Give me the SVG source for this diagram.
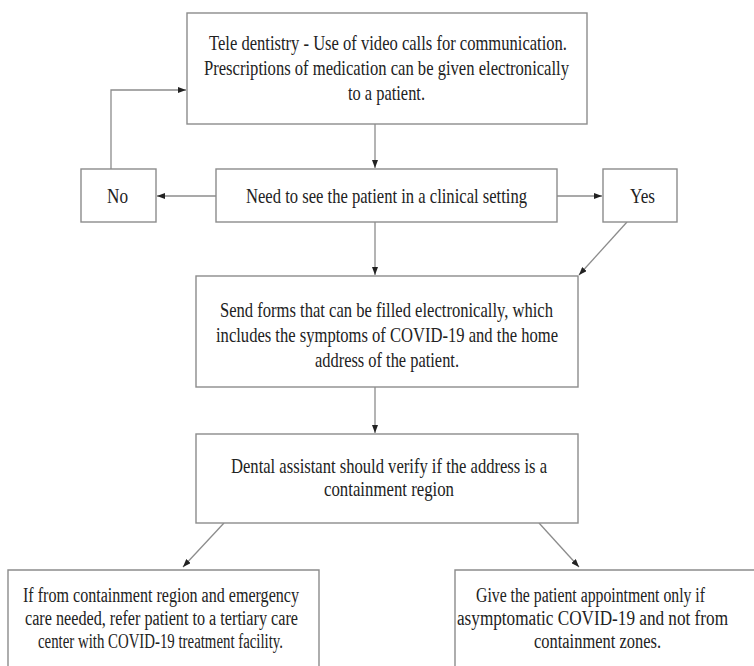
<svg xmlns="http://www.w3.org/2000/svg" width="754" height="666" viewBox="0 0 754 666">
<defs>
<style>
.box{fill:#fff;stroke:#8c8c8c;stroke-width:1.4}
.t{font-family:"Liberation Serif","Times New Roman",serif;font-size:21px;fill:#222}
.tb{font-family:"Liberation Serif","Times New Roman",serif;font-size:20px;fill:#222}
.m{text-anchor:middle}
.c{fill:none;stroke:#8c8c8c;stroke-width:1.3}
</style>
<marker id="ah" markerWidth="8" markerHeight="6" refX="8" refY="3" orient="auto" markerUnits="userSpaceOnUse">
<path d="M0,0 L8,3 L0,6 Z" fill="#222"/>
</marker>
</defs>
<rect width="754" height="666" fill="#fff"/>
<g id="connectors">
<path class="c" d="M375,124 V168" marker-end="url(#ah)"/>
<path class="c" d="M216,196 H157" marker-end="url(#ah)"/>
<path class="c" d="M557,196 H602" marker-end="url(#ah)"/>
<path class="c" d="M111,169 V90 H186" marker-end="url(#ah)"/>
<path class="c" d="M375,222 V275" marker-end="url(#ah)"/>
<path class="c" d="M627,222 L579,275" marker-end="url(#ah)"/>
<path class="c" d="M375,387 V433" marker-end="url(#ah)"/>
<path class="c" d="M224,523 L183,567" marker-end="url(#ah)"/>
<path class="c" d="M539,523 L579,567" marker-end="url(#ah)"/>
</g>
<g id="tele">
<rect class="box" x="187" y="13" width="400" height="111"/>
<text class="t" x="209" y="50" textLength="358" lengthAdjust="spacingAndGlyphs">Tele dentistry - Use of video calls for communication.</text>
<text class="t" x="204" y="75" textLength="365" lengthAdjust="spacingAndGlyphs">Prescriptions of medication can be given electronically</text>
<text class="t" x="348" y="100" textLength="77" lengthAdjust="spacingAndGlyphs">to a patient.</text>
</g>
<g id="no">
<rect class="box" x="81" y="169" width="75" height="53"/>
<text class="t" x="107" y="203" textLength="21" lengthAdjust="spacingAndGlyphs">No</text>
</g>
<g id="need">
<rect class="box" x="216" y="169" width="341" height="53"/>
<text class="t" x="246" y="203" textLength="281" lengthAdjust="spacingAndGlyphs">Need to see the patient in a clinical setting</text>
</g>
<g id="yes">
<rect class="box" x="603" y="169" width="74" height="53"/>
<text class="t" x="630" y="203" textLength="25" lengthAdjust="spacingAndGlyphs">Yes</text>
</g>
<g id="send">
<rect class="box" x="196" y="276" width="382" height="111"/>
<text class="t" x="220" y="317" textLength="333" lengthAdjust="spacingAndGlyphs">Send forms that can be filled electronically, which</text>
<text class="t" x="216" y="342" textLength="342" lengthAdjust="spacingAndGlyphs">includes the symptoms of COVID-19 and the home</text>
<text class="t" x="315" y="367" textLength="144" lengthAdjust="spacingAndGlyphs">address of the patient.</text>
</g>
<g id="dental">
<rect class="box" x="196" y="434" width="382" height="89"/>
<text class="t" x="231" y="473" textLength="316" lengthAdjust="spacingAndGlyphs">Dental assistant should verify if the address is a</text>
<text class="t" x="324" y="496" textLength="130" lengthAdjust="spacingAndGlyphs">containment region</text>
</g>
<g id="refer">
<path class="box" d="M8,666 V570 H319 V666"/>
<text class="tb" x="23" y="602" textLength="276" lengthAdjust="spacingAndGlyphs">If from containment region and emergency</text>
<text class="tb" x="25" y="625" textLength="273" lengthAdjust="spacingAndGlyphs">care needed, refer patient to a tertiary care</text>
<text class="tb" x="38" y="648" textLength="245" lengthAdjust="spacingAndGlyphs">center with COVID-19 treatment facility.</text>
</g>
<g id="appointment">
<path class="box" d="M455,666 V570 H754"/>
<text class="tb m" x="590.5" y="602" textLength="229" lengthAdjust="spacingAndGlyphs">Give the patient appointment only if</text>
<text class="tb m" x="592.5" y="625" textLength="271" lengthAdjust="spacingAndGlyphs">asymptomatic COVID-19 and not from</text>
<text class="tb m" x="597.5" y="648" textLength="127" lengthAdjust="spacingAndGlyphs">containment zones.</text>
</g>
</svg>
